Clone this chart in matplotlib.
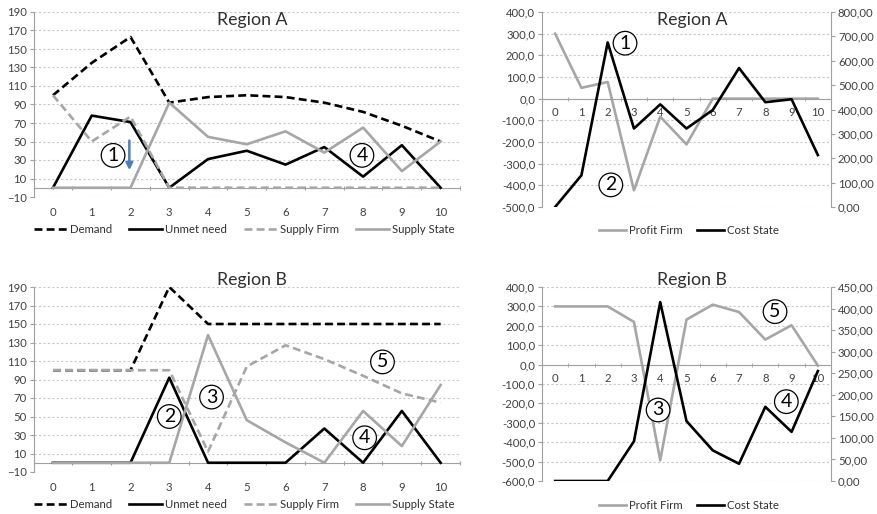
import numpy as np
import matplotlib
matplotlib.use("Agg")
import matplotlib.pyplot as plt
from matplotlib.ticker import FuncFormatter, MultipleLocator

plt.rcParams['font.family'] = ['Lato', 'DejaVu Sans']

periods = list(range(11))

# Region A - supply / demand
a_demand = [100, 135, 163, 92, 98, 100, 98, 92, 82, 67, 50]
a_unmet = [0, 78, 71, 0, 31, 40, 25, 44, 12, 46, 0]
a_supply_firm = [100, 50, 77, 0, 0, 0, 0, 0, 0, 0, 0]
a_supply_state = [0, 0, 0, 92, 55, 47, 61, 38, 65, 18, 50]

# Region A - profit / cost
a_profit_firm = [300, 50, 77, -423, -83, -211, 0, 0, 0, 0, 0]
a_cost_state = [0, 130, 675, 322, 421, 322, 398, 570, 430, 442, 213]

# Region B - supply / demand
b_demand = [100, 100, 100, 190, 150, 150, 150, 150, 150, 150, 150]
b_unmet = [0, 0, 0, 92, 0, 0, 0, 37, 0, 56, 0]
b_supply_firm = [100, 100, 100, 100, 12, 104, 127, 112, 94, 75, 65]
b_supply_state = [0, 0, 0, 0, 138, 46, 22, 0, 56, 18, 84]

# Region B - profit / cost
b_profit_firm = [300, 300, 300, 220, -493, 232, 309, 271, 129, 203, -5]
b_cost_state = [0, 0, 0, 92, 415, 139, 71, 40, 172, 114, 255]

BLACK = '#000000'
GRAY = '#a6a6a6'
AXC = '#a0a0a0'
GRIDC = '#c8c8c8'
LW = 1.9
TICKFS = 8.2
TITLEFS = 12.8
LEGFS = 8.2

fig = plt.figure(figsize=(8.78, 5.14), dpi=100)
W, H = 878, 514


def add_axes(x0, x1, ytop, ybot):
    return fig.add_axes([x0 / W, 1 - ybot / H, (x1 - x0) / W, (ybot - ytop) / H])


def circled(ax, x, y, s):
    ax.text(x, y, s, fontsize=14, ha='center', va='center', zorder=10,
            bbox=dict(boxstyle='circle,pad=0.17', fc='white', ec='black', lw=0.9))


def style_left_chart(ax, title, title_y):
    ymin, ymax = -10, 190
    ax.set_xlim(-0.5, 10.5)
    ax.set_ylim(ymin, ymax)
    ax.set_yticks(np.arange(-10, 191, 20))
    ax.set_xticks(periods)
    ax.grid(axis='y', color=GRIDC, linestyle=(0, (2, 2)), lw=0.8)
    ax.set_axisbelow(True)
    for s in ['top', 'right', 'bottom']:
        ax.spines[s].set_visible(False)
    ax.spines['left'].set_color(AXC)
    ax.tick_params(axis='y', colors=AXC, labelcolor='#404040', length=3, labelsize=TICKFS, pad=2)
    ax.tick_params(axis='x', length=0, labelsize=TICKFS, labelcolor='#404040', pad=7)
    sec = ax.secondary_xaxis((0 - ymin) / (ymax - ymin))
    sec.set_xticks(np.arange(-0.5, 11, 1))
    sec.tick_params(length=2.5, color=AXC, labelbottom=False, direction='inout')
    sec.spines['bottom'].set_color(AXC)
    ax.text(0.512, title_y, title, transform=ax.transAxes, ha='center', va='top',
            fontsize=TITLEFS, color='#303030')


def style_right_chart(ax, ax2, title, title_y, ylo, yhi, y2hi, y2step):
    ax.set_xlim(-0.5, 10.5)
    ax.set_ylim(ylo, yhi)
    ax.yaxis.set_major_locator(MultipleLocator(100))
    ax.yaxis.set_major_formatter(FuncFormatter(lambda v, p: f"{v:.1f}".replace('.', ',')))
    ax2.set_ylim(0, y2hi)
    ax2.yaxis.set_major_locator(MultipleLocator(y2step))
    ax2.yaxis.set_major_formatter(FuncFormatter(lambda v, p: f"{v:.2f}".replace('.', ',')))
    ax.grid(axis='y', color=GRIDC, linestyle=(0, (2, 2)), lw=0.8)
    ax.set_axisbelow(True)
    ax.spines['top'].set_visible(False)
    ax.spines['right'].set_visible(False)
    ax.spines['left'].set_color(AXC)
    ax.spines['bottom'].set_position(('data', 0))
    ax.spines['bottom'].set_color(AXC)
    ax.set_xticks(periods)
    ax.set_xticks(np.arange(-0.5, 11, 1), minor=True)
    ax.tick_params(axis='x', which='major', length=0, labelsize=TICKFS, labelcolor='#404040', pad=6)
    ax.tick_params(axis='x', which='minor', length=3, color=AXC, direction='inout')
    ax.tick_params(axis='y', colors=AXC, labelcolor='#404040', length=3, labelsize=TICKFS, pad=2)
    for s in ['top', 'left', 'bottom']:
        ax2.spines[s].set_visible(False)
    ax2.spines['right'].set_color(AXC)
    ax2.tick_params(axis='y', colors=AXC, labelcolor='#404040', length=3, labelsize=TICKFS, pad=2)
    ax.text(0.519, title_y, title, transform=ax.transAxes, ha='center', va='top',
            fontsize=TITLEFS, color='#303030')


def plot_supply(ax, demand, unmet, firm, state):
    h1, = ax.plot(periods, demand, color=BLACK, lw=LW, linestyle=(0, (3, 1.6)), label='Demand')
    h2, = ax.plot(periods, unmet, color=BLACK, lw=LW, label='Unmet need')
    h3, = ax.plot(periods, firm, color=GRAY, lw=LW, linestyle=(0, (3, 1.6)), label='Supply Firm')
    h4, = ax.plot(periods, state, color=GRAY, lw=LW, label='Supply State')
    ax.legend(handles=[h1, h2, h3, h4], loc='center', bbox_to_anchor=(0.494, -0.178), ncol=4,
              frameon=False, fontsize=LEGFS, handlelength=2.9, handletextpad=0.3,
              columnspacing=1.45, labelcolor='#303030')


def plot_profit(ax, ax2, profit, cost, legy):
    h1, = ax.plot(periods, profit, color=GRAY, lw=LW, label='Profit Firm')
    h2, = ax2.plot(periods, cost, color=BLACK, lw=LW, label='Cost State')
    ax.legend(handles=[h1, h2], loc='center', bbox_to_anchor=(0.508, legy), ncol=2,
              frameon=False, fontsize=LEGFS, handlelength=2.4, handletextpad=0.2,
              columnspacing=1.3, labelcolor='#303030')


# Top-left: Region A supply
ax1 = add_axes(33.6, 460, 12, 197)
plot_supply(ax1, a_demand, a_unmet, a_supply_firm, a_supply_state)
style_left_chart(ax1, 'Region A', 1.0)
circled(ax1, 1.55, 35, '1')
circled(ax1, 7.97, 35, '4')
ax1.annotate('', xy=(1.97, 16), xytext=(1.97, 54),
             arrowprops=dict(arrowstyle='-|>', color='#4a7ebb', lw=1.8, mutation_scale=10))

# Top-right: Region A profit/cost
ax2 = add_axes(542, 831, 12, 207)
ax2b = ax2.twinx()
plot_profit(ax2, ax2b, a_profit_firm, a_cost_state, -0.123)
style_right_chart(ax2, ax2b, 'Region A', 1.0, -500, 400, 800, 100)
circled(ax2, 2.66, 256, '1')
circled(ax2, 2.12, -398, '2')

# Bottom-left: Region B supply
ax3 = add_axes(33.6, 460, 287, 472)
plot_supply(ax3, b_demand, b_unmet, b_supply_firm, b_supply_state)
style_left_chart(ax3, 'Region B', 1.08)
circled(ax3, 3.0, 50, '2')
circled(ax3, 4.09, 71, '3')
circled(ax3, 8.5, 109, '5')
circled(ax3, 8.04, 27, '4')

# Bottom-right: Region B profit/cost
ax4 = add_axes(542, 831, 287, 481)
ax4b = ax4.twinx()
plot_profit(ax4, ax4b, b_profit_firm, b_cost_state, -0.124)
style_right_chart(ax4, ax4b, 'Region B', 1.075, -600, 400, 450, 50)
circled(ax4, 3.92, -234, '3')
circled(ax4, 8.37, 273, '5')
circled(ax4, 8.8, -191, '4')

fig.savefig('out.png', dpi=100)
